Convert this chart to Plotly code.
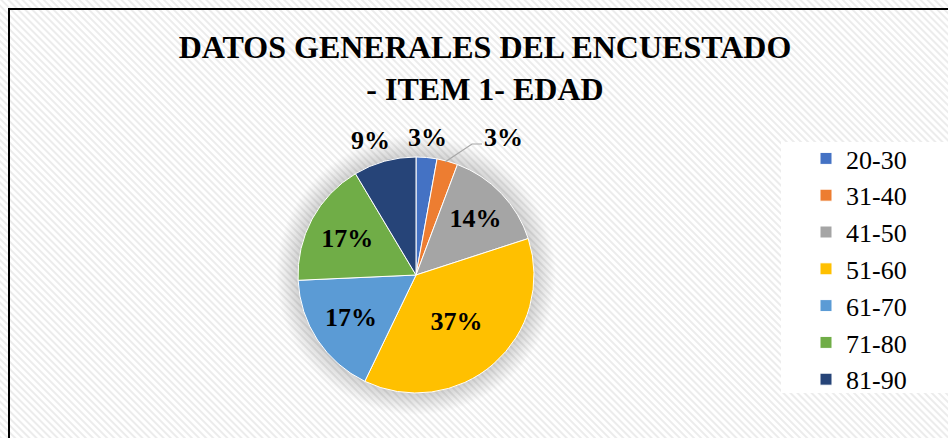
import base64
import plotly.graph_objects as go

# rangos de edad y numero de encuestados
edades = ['20-30', '31-40', '41-50', '51-60', '61-70', '71-80', '81-90']
encuestados = [1, 1, 5, 13, 6, 6, 3]
colores = ['#4472C4', '#ED7D31', '#A5A5A5', '#FFC000', '#5B9BD5', '#70AD47', '#264478']
# las rebanadas pequenas llevan la etiqueta fuera (como en Excel)
posiciones = ['none', 'none', 'inside', 'inside', 'inside', 'inside', 'none']

W, H = 948, 438
cx, cy, r = 416, 275, 118
serif = 'Liberation Serif, Times New Roman, serif'

total = sum(encuestados)
pct = ['{:.0f}%'.format(100 * v / total) for v in encuestados]

# fondo rayado tipo Excel, sombra del grafico, marco y caja blanca de la leyenda
svg = f"""<svg xmlns='http://www.w3.org/2000/svg' width='{W}' height='{H}'>
<defs>
<pattern id='p' width='5' height='5' patternUnits='userSpaceOnUse' patternTransform='rotate(-45)'>
<rect width='5' height='5' fill='#ffffff'/><rect width='2' height='5' fill='#ececec'/></pattern>
<radialGradient id='g' cx='{cx}' cy='{cy}' r='{r + 22}' gradientUnits='userSpaceOnUse'>
<stop offset='0.80' stop-color='#000' stop-opacity='0.22'/>
<stop offset='1' stop-color='#000' stop-opacity='0'/></radialGradient>
</defs>
<rect width='100%' height='100%' fill='url(#p)'/>
<circle cx='{cx}' cy='{cy}' r='{r + 22}' fill='url(#g)'/>
<rect x='781' y='142' width='170' height='251' fill='#ffffff'/>
<rect x='9' y='9' width='980' height='480' fill='none' stroke='#000' stroke-width='2'/>
</svg>"""
src = 'data:image/svg+xml;base64,' + base64.b64encode(svg.encode()).decode()

fig = go.Figure(go.Pie(
    labels=edades,
    values=encuestados,
    sort=False,
    direction='clockwise',
    rotation=0,
    marker=dict(colors=colores, line=dict(color='white', width=1)),
    texttemplate='%{percent:.0%}',
    textposition=posiciones,
    insidetextorientation='horizontal',
    textfont=dict(family=serif, size=26, color='black', weight='bold'),
    domain=dict(x=[(cx - r) / W, (cx + r) / W], y=[(H - cy - r) / H, (H - cy + r) / H]),
    hoverinfo='label+percent',
))

# etiquetas exteriores: 20-30, 31-40 (con linea guia) y 81-90
fuera = [(0, 427, 138), (1, 504, 138), (6, 370, 141)]
for i, px_, py_ in fuera:
    fig.add_annotation(text='<b>' + pct[i] + '</b>', x=px_ / W, y=1 - py_ / H,
                       xref='paper', yref='paper', showarrow=False,
                       xanchor='center', yanchor='middle',
                       font=dict(family=serif, size=26, color='black'))
fig.add_shape(type='path', xref='paper', yref='paper',
              path='M {} {} L {} {} L {} {}'.format(445 / W, 1 - 162 / H, 472 / W, 1 - 144 / H,
                                                   482 / W, 1 - 144 / H),
              line=dict(color='#a6a6a6', width=1.2))

fig.update_layout(
    width=W, height=H,
    margin=dict(l=0, r=0, t=0, b=0),
    paper_bgcolor='white',
    plot_bgcolor='white',
    images=[dict(source=src, xref='paper', yref='paper', x=0, y=1, sizex=1, sizey=1,
                 xanchor='left', yanchor='top', sizing='stretch', layer='below')],
    title=dict(text='DATOS GENERALES DEL ENCUESTADO<br>- ITEM 1- EDAD',
               x=485 / W, y=1 - 58 / H, xanchor='center', yanchor='middle',
               font=dict(family=serif, size=32, color='black', weight='bold')),
    legend=dict(x=806 / W, y=1 - 135 / H, xanchor='left', yanchor='top',
                bgcolor='rgba(0,0,0,0)',
                font=dict(family=serif, size=26, color='black')),
)

fig.write_html('out.html', config={'displayModeBar': False},
               post_script="document.body.style.margin='0';")
